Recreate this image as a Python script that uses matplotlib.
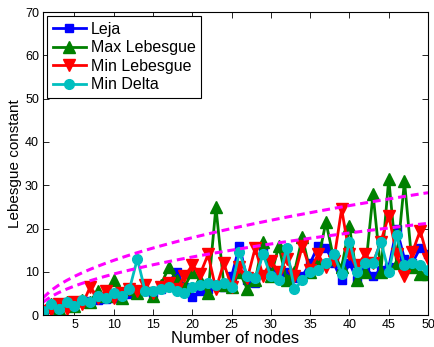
import matplotlib
matplotlib.use("Agg")
import matplotlib.pyplot as plt

nodes = list(range(1, 51))

leja = [1.0, 1.5, 1.8, 2.2, 2.5, 3.0, 3.3, 3.5, 3.8, 4.0,
        4.5, 4.8, 5.0, 5.5, 5.2, 6.0, 7.5, 10.0, 6.5, 4.2,
        5.5, 6.0, 7.0, 6.5, 9.0, 16.0, 8.0, 7.5, 15.0, 10.0,
        9.5, 10.0, 8.5, 9.0, 12.0, 16.0, 15.5, 12.0, 8.0, 12.0,
        8.0, 11.0, 9.0, 10.5, 11.0, 20.0, 13.0, 12.0, 15.5, 14.0]

max_leb = [1.0, 2.5, 1.5, 3.0, 2.0, 3.5, 3.0, 5.5, 4.5, 8.0,
           4.0, 6.0, 5.0, 6.5, 4.5, 7.0, 11.0, 8.0, 6.5, 10.0,
           8.0, 5.0, 25.0, 7.0, 6.5, 10.0, 6.0, 8.0, 17.0, 9.0,
           16.0, 8.0, 10.0, 18.0, 10.0, 12.5, 21.5, 13.0, 11.0, 20.5,
           8.0, 10.0, 28.0, 10.0, 31.5, 12.0, 31.0, 11.0, 9.5, 9.5]

min_leb = [1.0, 1.2, 2.5, 1.5, 3.0, 2.5, 6.5, 4.0, 5.5, 4.0,
           5.0, 6.0, 5.5, 7.0, 5.0, 6.5, 7.5, 6.0, 9.0, 11.5,
           9.5, 14.0, 6.0, 12.0, 6.5, 11.0, 8.5, 15.5, 9.0, 12.5,
           10.0, 13.0, 9.0, 16.0, 10.5, 14.0, 11.0, 12.5, 24.5, 14.0,
           11.5, 14.0, 12.0, 17.0, 23.0, 14.0, 9.0, 14.5, 19.5, 13.0]

min_delta = [1.0, 2.5, 1.5, 3.0, 2.0, 3.5, 3.0, 4.5, 4.0, 5.0,
             4.5, 6.0, 13.0, 5.5, 5.5, 6.0, 6.5, 5.5, 5.0, 6.5,
             7.0, 7.5, 7.0, 7.5, 6.5, 14.5, 9.0, 8.5, 14.0, 9.0,
             8.0, 15.5, 6.0, 8.0, 10.0, 10.5, 12.0, 14.0, 9.5, 17.0,
             10.0, 12.0, 12.0, 17.0, 10.0, 18.5, 11.5, 12.0, 11.5, 10.5]

upper_bound = [4.0, 5.66, 6.93, 8.0, 8.94, 9.8, 10.58, 11.31, 12.0, 12.65,
               13.27, 13.86, 14.42, 14.97, 15.49, 16.0, 16.49, 16.97, 17.44, 17.89,
               18.33, 18.76, 19.18, 19.6, 20.0, 20.4, 20.78, 21.17, 21.54, 21.91,
               22.27, 22.63, 22.98, 23.32, 23.66, 24.0, 24.33, 24.66, 24.98, 25.3,
               25.61, 25.92, 26.23, 26.53, 26.83, 27.13, 27.42, 27.71, 28.0, 28.28]

lower_bound = [3.0, 4.24, 5.2, 6.0, 6.71, 7.35, 7.94, 8.49, 9.0, 9.49,
               9.95, 10.39, 10.82, 11.22, 11.62, 12.0, 12.37, 12.73, 13.08, 13.42,
               13.75, 14.07, 14.39, 14.7, 15.0, 15.3, 15.59, 15.87, 16.16, 16.43,
               16.7, 16.97, 17.23, 17.49, 17.75, 18.0, 18.25, 18.49, 18.73, 18.97,
               19.21, 19.44, 19.67, 19.9, 20.12, 20.35, 20.57, 20.78, 21.0, 21.21]

xticks = [5, 10, 15, 20, 25, 30, 35, 40, 45, 50]
yticks = [0, 10, 20, 30, 40, 50, 60, 70]

plt.rcParams['font.family'] = ['Liberation Sans', 'DejaVu Sans']

fig = plt.figure(figsize=(4.35, 3.47), dpi=100)
ax = fig.add_axes([0.099, 0.092, 0.885, 0.873])

lw = 2.0
ax.plot(nodes, leja, '-s', color=(0, 0, 1), lw=lw, ms=6, label='Leja')
ax.plot(nodes, max_leb, '-^', color=(0, 0.5, 0), lw=lw, ms=8, label='Max Lebesgue')
ax.plot(nodes, min_leb, '-v', color=(1, 0, 0), lw=lw, ms=8, label='Min Lebesgue')
ax.plot(nodes, min_delta, '-o', color=(0, 0.75, 0.75), lw=lw, ms=7, label='Min Delta')
ax.plot(nodes, upper_bound, '--', color=(1, 0, 1), lw=2.2, dashes=(2.6, 1.6))
ax.plot(nodes, lower_bound, '--', color=(1, 0, 1), lw=2.2, dashes=(2.6, 1.6))

ax.set_xlim(1, 50)
ax.set_ylim(0, 70)
ax.set_xticks(xticks)
ax.set_yticks(yticks)
ax.tick_params(direction='in', top=True, right=True, labelsize=9, length=4, width=0.6, pad=3)
for s in ax.spines.values():
    s.set_linewidth(0.8)
ax.set_xlabel('Number of nodes', fontsize=12, labelpad=0)
ax.set_ylabel('Lebesgue constant', fontsize=11, labelpad=2)

leg = ax.legend(loc='upper left', fontsize=11.5, fancybox=False, framealpha=1,
                edgecolor='black', handlelength=2.1, borderpad=0.35,
                labelspacing=0.22, handletextpad=0.3, borderaxespad=0.25)
leg.get_frame().set_linewidth(0.8)

fig.savefig('out.png', dpi=100)
